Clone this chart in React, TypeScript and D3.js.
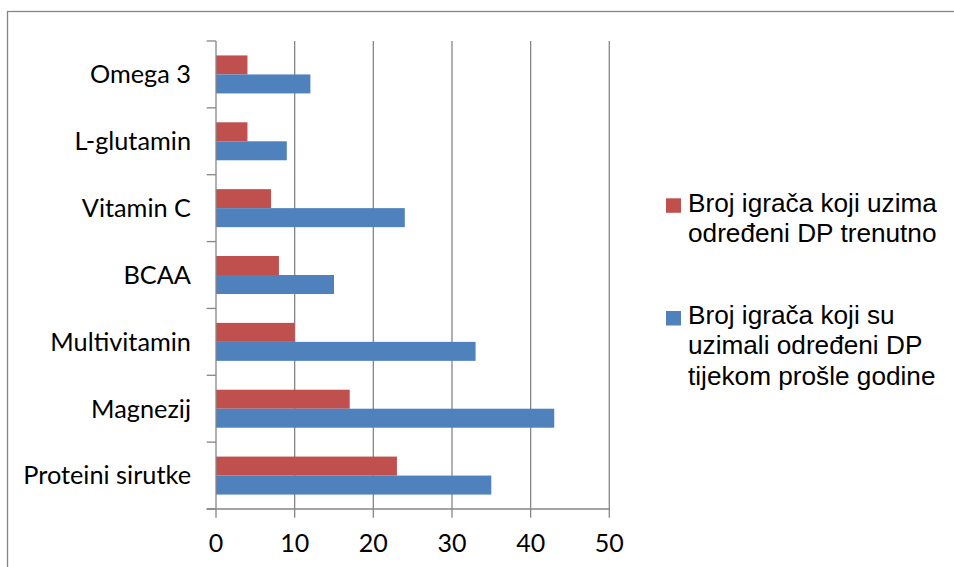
import React from "react";
import * as d3 from "d3";

const categories = ["Omega 3", "L-glutamin", "Vitamin C", "BCAA", "Multivitamin", "Magnezij", "Proteini sirutke"];
const seriesNames = ["Broj igrača koji uzima određeni DP trenutno", "Broj igrača koji su uzimali određeni DP tijekom prošle godine"];
const currentValues = [4, 4, 7, 8, 10, 17, 23];
const lastYearValues = [12, 9, 24, 15, 33, 43, 35];
const xTicks = [0, 10, 20, 30, 40, 50];
const legendLines = [
  ["Broj igrača koji uzima", "određeni DP trenutno"],
  ["Broj igrača koji su", "uzimali određeni DP", "tijekom prošle godine"],
];
const colors = ["#C0504D", "#4F81BD"];

export default function App() {
  const W = 954, H = 567;
  const x = d3.scaleLinear().domain([0, 50]).range([216, 609.3]);
  const y = d3.scaleBand<string>().domain(categories).range([41, 509]).padding(0);
  const sub = d3.scaleBand<string>().domain(["cur", "last"]).range([0, y.bandwidth()]).paddingInner(0).paddingOuter(0.76);
  const series = [currentValues, lastYearValues];
  const keys = ["cur", "last"];
  const grid = "#868686";
  const boundaries = categories.map((c) => y(c)!).concat([509]);
  const catFont = "Lato, Calibri, 'Open Sans', sans-serif";
  const legFont = "'Liberation Sans', Arial, sans-serif";

  return (
    <svg width={W} height={H} style={{ position: "fixed", left: 0, top: 0, background: "#fff" }}>
      <rect x={7.5} y={11.5} width={W + 10} height={H + 10} fill="#fff" stroke={grid} strokeWidth={1.3} />
      {/* gridlines */}
      {xTicks.filter((t) => t > 0).map((t) => (
        <line key={"g" + t} x1={x(t)} x2={x(t)} y1={41} y2={509} stroke={grid} strokeWidth={1.3} />
      ))}
      {/* bars */}
      {series.map((vals, si) =>
        categories.map((c, i) => (
          <rect
            key={si + "-" + c}
            x={x(0)}
            y={y(c)! + sub(keys[si])!}
            width={x(vals[i]) - x(0)}
            height={sub.bandwidth()}
            fill={colors[si]}
          />
        ))
      )}
      {/* axes */}
      <line x1={x(0)} x2={x(0)} y1={41} y2={509} stroke={grid} strokeWidth={1.3} />
      <line x1={206.7} x2={x(50)} y1={509} y2={509} stroke={grid} strokeWidth={1.3} />
      {boundaries.map((b, i) => (
        <line key={"yt" + i} x1={206.7} x2={x(0)} y1={b} y2={b} stroke={grid} strokeWidth={1.3} />
      ))}
      {xTicks.map((t) => (
        <line key={"xt" + t} x1={x(t)} x2={x(t)} y1={509} y2={517.7} stroke={grid} strokeWidth={1.3} />
      ))}
      {/* tick labels */}
      {xTicks.map((t) => (
        <text key={"xl" + t} x={x(t)} y={552} textAnchor="middle" fontFamily={catFont} fontSize={25} fill="#000">
          {t}
        </text>
      ))}
      {categories.map((c) => (
        <text
          key={"cl" + c}
          x={191}
          y={y(c)! + y.bandwidth() / 2}
          dy="0.35em"
          textAnchor="end"
          fontFamily={catFont}
          fontSize={25.3}
          fill="#000"
        >
          {c}
        </text>
      ))}
      {/* legend */}
      {legendLines.map((lines, si) => {
        const base = si === 0 ? 211.7 : 323.5;
        const sq = si === 0 ? 198.3 : 311;
        return (
          <g key={"leg" + si}>
            <rect x={666} y={sq} width={15} height={14.5} fill={colors[si]} />
            {lines.map((ln, li) => (
              <text key={li} x={688} y={base + li * 30.5} fontFamily={legFont} fontSize={26.2} fill="#000">
                {ln}
              </text>
            ))}
          </g>
        );
      })}
      <title>{seriesNames.join(" / ")}</title>
    </svg>
  );
}
